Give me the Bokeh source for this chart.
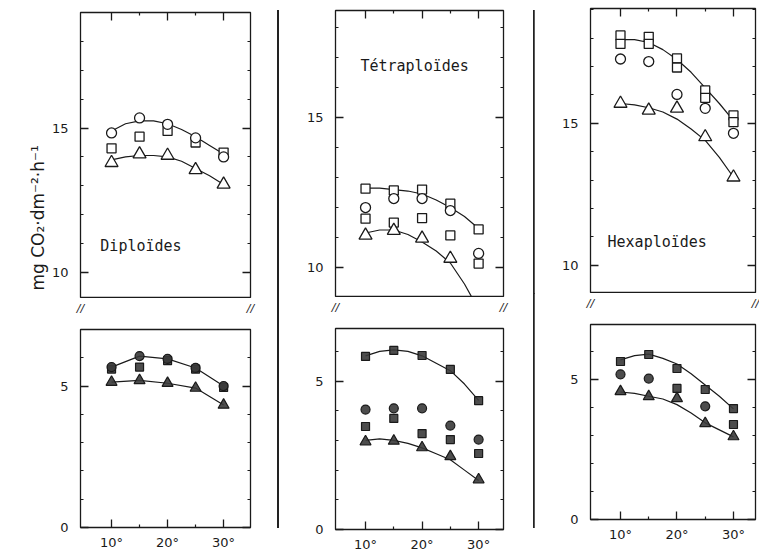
from bokeh.plotting import figure
from bokeh.models import LinearAxis, FixedTicker, Range1d, Label, Div, Title
from bokeh.layouts import row, column
from bokeh.embed import file_html
from bokeh.resources import INLINE

# ---------------- data ----------------
temps = [10, 15, 20, 25, 30]
curve_t = [10, 12.5, 15, 17.5, 20, 22.5, 25, 27.5, 30]

x_ticks = [10, 20, 30]
x_minor = [15, 25]
x_tick_labels = ["10°", "20°", "30°"]
up_y_ticks = [10, 15]
up_y_minor = [9, 11, 12, 13, 14, 16, 17, 18, 19]
lo_y_ticks = [0, 5]
lo_y_minor = [1, 2, 3, 4, 6, 7]
break_mark = "//"

y_label = "mg  CO₂·dm⁻²·h⁻¹"
panel_names = ["Diploïdes", "Tétraploïdes", "Hexaploïdes"]

# Diploides - upper part
di_up_circ = [14.83, 15.35, 15.13, 14.66, 14.0]
di_up_sq = [14.3, 14.7, 14.9, 14.5, 14.15]
di_up_tri = [13.8, 14.1, 14.05, 13.55, 13.05]
di_up_curve_top = [14.9, 15.15, 15.25, 15.25, 15.15, 14.95, 14.7, 14.4, 14.1]
di_up_curve_tri = [13.9, 14.0, 14.05, 14.05, 14.0, 13.85, 13.6, 13.35, 13.05]
# Diploides - lower part
di_lo_circ = [5.67, 6.06, 5.96, 5.64, 5.0]
di_lo_sq = [5.6, 5.67, 5.9, 5.6, 4.95]
di_lo_tri = [5.14, 5.2, 5.1, 4.93, 4.33]

# Tetraploides - upper part
te_up_sq = [12.63, 12.57, 12.6, 12.13, 11.27]
te_up_circ = [12.0, 12.3, 12.3, 11.9, 10.47]
te_up_sq2 = [11.63, 11.5, 11.65, 11.07, 10.13]
te_up_tri = [11.07, 11.23, 10.97, 10.3, 8.63]
te_up_curve_top = [12.65, 12.65, 12.6, 12.55, 12.45, 12.25, 12.0, 11.7, 11.3]
te_up_curve_tri = [11.15, 11.25, 11.25, 11.1, 10.85, 10.55, 10.15, 9.45, 8.6]
# Tetraploides - lower part
te_lo_sq = [5.83, 6.03, 5.86, 5.39, 4.34]
te_lo_circ = [4.04, 4.08, 4.08, 3.5, 3.03]
te_lo_sq2 = [3.47, 3.74, 3.23, 3.03, 2.56]
te_lo_tri = [2.96, 2.98, 2.76, 2.46, 1.68]
te_lo_curve_top = [5.85, 6.0, 6.05, 6.0, 5.85, 5.6, 5.35, 4.9, 4.35]
te_lo_curve_tri = [3.0, 3.05, 3.0, 2.9, 2.75, 2.55, 2.35, 2.0, 1.65]

# Hexaploides - upper part
he_up_sq = [18.1, 18.05, 17.29, 16.16, 15.28]
he_up_sq2 = [17.8, 17.8, 16.97, 15.9, 15.04]
he_up_circ = [17.27, 17.18, 16.02, 15.53, 14.65]
he_up_tri = [15.7, 15.46, 15.53, 14.52, 13.1]
he_up_curve_top = [17.95, 17.95, 17.85, 17.6, 17.25, 16.8, 16.25, 15.7, 15.1]
he_up_curve_tri = [15.7, 15.65, 15.55, 15.4, 15.15, 14.8, 14.4, 13.8, 13.1]
# Hexaploides - lower part
nan = float("nan")
he_lo_sq = [5.64, 5.89, 5.39, 4.64, 3.96]
he_lo_circ = [5.18, 5.03, nan, 4.04, nan]
he_lo_sq2 = [nan, nan, 4.68, nan, 3.39]
he_lo_tri = [4.57, 4.39, 4.32, 3.43, 2.96]
he_lo_curve_top = [5.7, 5.85, 5.9, 5.75, 5.55, 5.2, 4.8, 4.4, 3.95]
he_lo_curve_tri = [4.55, 4.5, 4.4, 4.3, 4.1, 3.8, 3.45, 3.2, 2.95]

# ---------------- styling helpers ----------------
INK = "#1a1a1a"
FONT = "DejaVu Sans"
NAME_FONT = "DejaVu Sans Mono"


def make_fig(fw, fh, xr, yr, left, right, top, bottom):
    p = figure(frame_width=fw, frame_height=fh,
               x_range=Range1d(*xr), y_range=Range1d(*yr),
               min_border_left=left, min_border_right=right,
               min_border_top=top, min_border_bottom=bottom,
               toolbar_location=None, output_backend="svg",
               x_axis_location=None, y_axis_location=None)
    p.xgrid.visible = False
    p.ygrid.visible = False
    p.outline_line_color = INK
    p.outline_line_width = 1.3
    p.background_fill_color = "white"
    p.border_fill_color = "white"
    return p


def add_axis(p, side, ticks, minor, labels=None):
    ax = LinearAxis(ticker=FixedTicker(ticks=ticks, minor_ticks=minor))
    ax.axis_line_color = None
    ax.major_tick_in = 8
    ax.major_tick_out = 0
    ax.minor_tick_in = 3
    ax.minor_tick_out = 0
    ax.major_tick_line_color = INK
    ax.minor_tick_line_color = INK
    ax.major_tick_line_width = 1.3
    ax.minor_tick_line_width = 1.2
    if labels is None:
        ax.major_label_overrides = {t: "" for t in ticks}
        ax.major_label_text_font_size = "0px"
        ax.major_label_standoff = 0
    else:
        ax.major_label_overrides = {t: l for t, l in zip(ticks, labels)}
        ax.major_label_text_font = FONT
        ax.major_label_text_font_size = "13px"
        ax.major_label_text_color = INK
        ax.major_label_standoff = 12 if side == "left" else 7
    p.add_layout(ax, side)
    return ax


def open_markers(p, series):
    for marker, ys, size in series:
        p.scatter(temps, ys, marker=marker, size=size, fill_color="white",
                  line_color=INK, line_width=1.3)


def dark_markers(p, series):
    for marker, ys, size in series:
        p.scatter(temps, ys, marker=marker, size=size, fill_color="#3a3a3a",
                  fill_alpha=0.9, line_color=INK, line_width=1.2)


def curve(p, ys):
    p.line(curve_t, ys, line_color=INK, line_width=1.2)


def upper(fw, fh, xr, yr, left, right, top):
    p = make_fig(fw, fh, xr, yr, left, right, top, 0)
    ax = add_axis(p, "left", up_y_ticks, up_y_minor, [str(t) for t in up_y_ticks])
    add_axis(p, "right", up_y_ticks, up_y_minor)
    add_axis(p, "above", x_ticks, x_minor)
    return p, ax


def lower(fw, fh, xr, yr, left, right, top, bottom):
    p = make_fig(fw, fh, xr, yr, left, right, top, bottom)
    add_axis(p, "left", lo_y_ticks, lo_y_minor, [str(t) for t in lo_y_ticks])
    add_axis(p, "right", lo_y_ticks, lo_y_minor)
    add_axis(p, "below", x_ticks, x_minor, x_tick_labels)
    # break marks "//" at both upper corners of the lower frame
    br = LinearAxis(ticker=FixedTicker(ticks=[xr[0], xr[1]], minor_ticks=[]))
    br.axis_line_color = None
    br.major_tick_line_color = None
    br.minor_tick_line_color = None
    br.major_label_overrides = {xr[0]: break_mark, xr[1]: break_mark}
    br.major_label_text_font = FONT
    br.major_label_text_font_size = "11px"
    br.major_label_text_font_style = "italic"
    br.major_label_text_color = INK
    br.major_label_standoff = 9
    p.add_layout(br, "above")
    return p


def panel_text(p, x, y, txt):
    p.add_layout(Label(x=x, y=y, text=txt, text_font=NAME_FONT, text_font_size="15px",
                       text_color=INK, text_align="left", text_baseline="middle"))


# ---------------- panel 1: Diploides ----------------
xr1 = (4.46, 34.8)
p1u, ax1 = upper(170, 286, xr1, (9.1, 19.0), 80, 15, 12)
curve(p1u, di_up_curve_top)
curve(p1u, di_up_curve_tri)
open_markers(p1u, [("square", di_up_sq, 9), ("circle", di_up_circ, 10),
                   ("triangle", di_up_tri, 13)])
panel_text(p1u, 8.0, 10.93, panel_names[0])
# y axis title on the left side, placed toward the bottom of the upper frame
t_kwargs = dict(text=y_label, align="left", offset=8,
                text_font=FONT, text_font_size="17px", text_font_style="normal",
                text_color=INK)
if "standoff" in Title.properties():
    t_kwargs["standoff"] = 2
p1u.add_layout(Title(**t_kwargs), "left")

p1l = lower(170, 198, xr1, (0, 7.0), 80, 15, 25, 24)
p1l.line(temps, di_lo_circ, line_color=INK, line_width=1.2)
p1l.line(temps, di_lo_tri, line_color=INK, line_width=1.2)
dark_markers(p1l, [("square", di_lo_sq, 8), ("circle", di_lo_circ, 9),
                   ("triangle", di_lo_tri, 11)])

# ---------------- panel 2: Tetraploides ----------------
xr2 = (4.69, 34.4)
p2u, _ = upper(168, 287, xr2, (9.0, 18.57), 56, 15, 10)
curve(p2u, te_up_curve_top)
curve(p2u, te_up_curve_tri)
open_markers(p2u, [("square", te_up_sq, 9), ("square", te_up_sq2, 9),
                   ("circle", te_up_circ, 10), ("triangle", te_up_tri, 13)])
panel_text(p2u, 9.1, 16.73, panel_names[1])

p2l = lower(168, 201, xr2, (0, 6.77), 56, 15, 24, 24)
curve(p2l, te_lo_curve_top)
curve(p2l, te_lo_curve_tri)
dark_markers(p2l, [("square", te_lo_sq, 8), ("circle", te_lo_circ, 9),
                   ("square", te_lo_sq2, 8), ("triangle", te_lo_tri, 11)])

# ---------------- panel 3: Hexaploides ----------------
xr3 = (4.69, 33.9)
p3u, _ = upper(165, 285, xr3, (9.0, 19.05), 56, 4, 8)
curve(p3u, he_up_curve_top)
curve(p3u, he_up_curve_tri)
open_markers(p3u, [("square", he_up_sq, 9), ("square", he_up_sq2, 9),
                   ("circle", he_up_circ, 10), ("triangle", he_up_tri, 13)])
panel_text(p3u, 7.7, 10.81, panel_names[2])

p3l = lower(165, 195, xr3, (0, 6.96), 56, 4, 24, 33)
curve(p3l, he_lo_curve_top)
curve(p3l, he_lo_curve_tri)
dark_markers(p3l, [("square", he_lo_sq, 8), ("circle", he_lo_circ, 9),
                   ("square", he_lo_sq2, 8), ("triangle", he_lo_tri, 11)])


def separator(width, offset):
    return Div(text=('<div style="margin-left:%dpx;margin-top:10px;width:1.5px;'
                     'height:518px;background:#222;"></div>' % offset),
               width=width, height=552, margin=0)


layout = row(column(p1u, p1l), separator(14, 12),
             column(p2u, p2l), separator(16, 15),
             column(p3u, p3l))

open("out.html", "w").write(file_html(layout, INLINE))
